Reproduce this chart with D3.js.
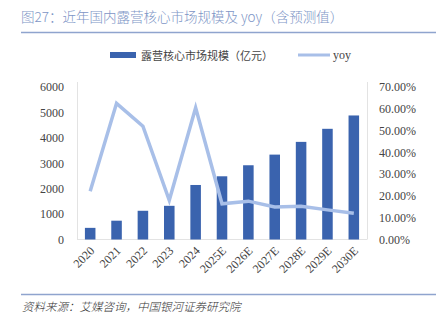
<!DOCTYPE html>
<html>
<head>
<meta charset="utf-8">
<script src="https://cdn.jsdelivr.net/npm/d3@7"></script>
<style>
  body { margin: 0; background: #fff; }
  svg { display: block; }
</style>
</head>
<body>
<div id="chart"></div>
<script>
const years = ['2020', '2021', '2022', '2023', '2024', '2025E', '2026E', '2027E', '2028E', '2029E', '2030E'];
const marketSize = [458, 740, 1130, 1325, 2145, 2487, 2921, 3340, 3841, 4355, 4880];
const yoy = [22.1, 62.5, 52.0, 18.0, 60.5, 16.4, 17.6, 14.9, 15.3, 13.6, 12.0];
const leftTicks = [0, 1000, 2000, 3000, 4000, 5000, 6000];
const rightTicks = [0, 10, 20, 30, 40, 50, 60, 70];

const width = 443, height = 324;
const margin = { top: 87, right: 76, bottom: 85, left: 77 };
const barColor = '#3A63AE';
const lineColor = '#A8BFE8';
const cjk = '"Noto Sans CJK SC", "Noto Sans", sans-serif';
const serif = '"Liberation Serif", "DejaVu Serif", serif';

const svg = d3.select('#chart').append('svg')
  .attr('width', width)
  .attr('height', height);

// header
svg.append('text')
  .attr('x', 21).attr('y', 22)
  .attr('font-family', cjk)
  .attr('font-size', 13.5)
  .attr('font-weight', 300)
  .attr('fill', '#7D95C6')
  .text('图27：近年国内露营核心市场规模及 yoy（含预测值）');
svg.append('line')
  .attr('x1', 21).attr('x2', 436)
  .attr('y1', 32.5).attr('y2', 32.5)
  .attr('stroke', '#8FA4CE').attr('stroke-width', 1.5);

const x = d3.scaleBand()
  .domain(years)
  .range([margin.left, width - margin.right])
  .paddingInner(0.6)
  .paddingOuter(0.3);
const y = d3.scaleLinear().domain([0, 6000]).range([height - margin.bottom + 0.5, margin.top]);
const y2 = d3.scaleLinear().domain([0, 70]).range([height - margin.bottom + 0.5, margin.top]);

// plot frame: faint side lines and baseline
const frame = svg.append('g').attr('stroke', '#E3E3E3').attr('stroke-width', 1);
frame.append('line')
  .attr('x1', margin.left + 0.5).attr('x2', margin.left + 0.5)
  .attr('y1', margin.top - 5).attr('y2', y(0));
frame.append('line')
  .attr('x1', width - margin.right + 0.5).attr('x2', width - margin.right + 0.5)
  .attr('y1', margin.top - 5).attr('y2', y(0));
frame.append('line')
  .attr('x1', margin.left).attr('x2', width - margin.right)
  .attr('y1', y(0)).attr('y2', y(0));

// left axis labels
svg.append('g')
  .attr('transform', `translate(${margin.left - 13},0)`)
  .call(d3.axisLeft(y).tickValues(leftTicks).tickSize(0).tickPadding(0)
    .tickFormat(d3.format('d')))
  .call(g => g.select('.domain').remove())
  .call(g => g.selectAll('text')
    .attr('font-family', serif).attr('font-size', 12).attr('fill', '#444'));

// right axis labels
svg.append('g')
  .attr('transform', `translate(${width - margin.right + 12},0)`)
  .call(d3.axisRight(y2).tickValues(rightTicks).tickSize(0).tickPadding(0)
    .tickFormat(d => d.toFixed(2) + '%'))
  .call(g => g.select('.domain').remove())
  .call(g => g.selectAll('text')
    .attr('font-family', serif).attr('font-size', 12).attr('fill', '#444'));

// bars
svg.append('g')
  .selectAll('rect')
  .data(marketSize)
  .join('rect')
  .attr('x', (d, i) => x(years[i]))
  .attr('width', x.bandwidth())
  .attr('y', d => y(d))
  .attr('height', d => y(0) - y(d))
  .attr('fill', barColor);

// yoy line
const line = d3.line()
  .x((d, i) => x(years[i]) + x.bandwidth() / 2)
  .y(d => y2(d));
svg.append('path')
  .datum(yoy)
  .attr('d', line)
  .attr('fill', 'none')
  .attr('stroke', lineColor)
  .attr('stroke-width', 3.5)
  .attr('stroke-linejoin', 'miter');

// category labels, rotated
svg.append('g')
  .attr('transform', `translate(0,${y(0)})`)
  .call(d3.axisBottom(x).tickSize(0).tickPadding(0))
  .call(g => g.select('.domain').remove())
  .call(g => g.selectAll('text')
    .attr('font-family', serif).attr('font-size', 12).attr('fill', '#444')
    .attr('text-anchor', 'end')
    .attr('dy', 0)
    .attr('transform', 'translate(5,12) rotate(-45)'));

// legend
const legend = svg.append('g').attr('font-family', cjk).attr('font-size', 11).attr('fill', '#444');
legend.append('rect')
  .attr('x', 110).attr('y', 52).attr('width', 26).attr('height', 6)
  .attr('fill', barColor);
legend.append('text')
  .attr('x', 141).attr('y', 59.5)
  .text('露营核心市场规模（亿元）');
legend.append('line')
  .attr('x1', 298).attr('x2', 330).attr('y1', 55).attr('y2', 55)
  .attr('stroke', lineColor).attr('stroke-width', 3);
legend.append('text')
  .attr('x', 333).attr('y', 59)
  .attr('font-family', serif).attr('font-size', 12)
  .text('yoy');

// footer
svg.append('line')
  .attr('x1', 21).attr('x2', 436)
  .attr('y1', 294.5).attr('y2', 294.5)
  .attr('stroke', '#8FA4CE').attr('stroke-width', 1.5);
svg.append('text')
  .attr('x', 22).attr('y', 311)
  .attr('font-family', cjk)
  .attr('font-size', 11.5)
  .attr('font-style', 'italic')
  .attr('font-weight', 300)
  .attr('fill', '#333')
  .text('资料来源：艾媒咨询，中国银河证券研究院');
</script>
</body>
</html>
